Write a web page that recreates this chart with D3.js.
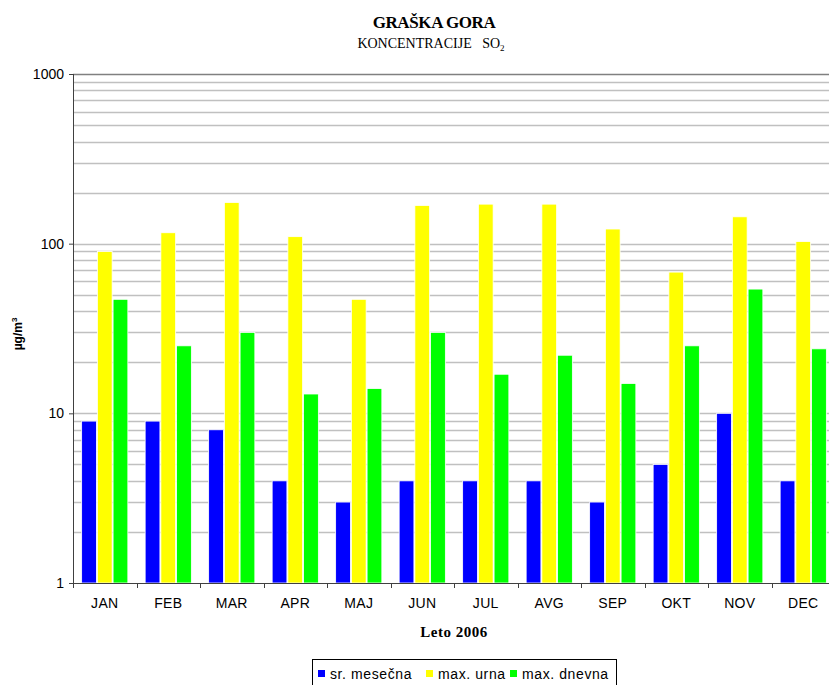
<!DOCTYPE html>
<html>
<head>
<meta charset="utf-8">
<script src="https://cdn.jsdelivr.net/npm/d3@7"></script>
<style>
  body { margin: 0; background: #fff; }
  svg { display: block; }
  .axis text { font-family: "Liberation Sans", Arial, sans-serif; font-size: 14px; fill: #000; }
  .axis path, .axis line { stroke: #404040; }
</style>
</head>
<body>
<div id="chart"></div>
<script>
// data
const months = ['JAN', 'FEB', 'MAR', 'APR', 'MAJ', 'JUN', 'JUL', 'AVG', 'SEP', 'OKT', 'NOV', 'DEC'];
const seriesNames = ['sr. mesečna', 'max. urna', 'max. dnevna'];
const srMesecna = [9, 9, 8, 4, 3, 4, 4, 4, 3, 5, 10, 4];
const maxUrna = [90, 116, 175, 110, 47, 168, 171, 171, 122, 68, 144, 103];
const maxDnevna = [47, 25, 30, 13, 14, 30, 17, 22, 15, 25, 54, 24];
const yTicks = [1, 10, 100, 1000];
const colors = ['#0000ff', '#ffff00', '#00ff00'];

const width = 829;
const height = 685;
const margin = { top: 74, right: -6, bottom: 102, left: 73 };

const svg = d3.select('#chart')
    .append('svg')
    .attr('width', width)
    .attr('height', height);

const x = d3.scaleBand()
    .domain(months)
    .range([margin.left, width - margin.right]);

const xInner = d3.scaleBand()
    .domain(d3.range(3))
    .range([0, x.bandwidth()])
    .paddingOuter(0.55)
    .paddingInner(0.06);

const y = d3.scaleLog()
    .domain([1, 1000])
    .range([height - margin.bottom, margin.top]);

// gridlines, 1..9 in each decade
const gridVals = [];
for (let d = 1; d < 1000; d *= 10) {
    for (let k = 1; k < 10; k++) {
        if (d * k > 1) gridVals.push(d * k);
    }
}
gridVals.push(1000);

svg.append('g')
    .selectAll('line')
    .data(gridVals)
    .join('line')
    .attr('x1', margin.left)
    .attr('x2', width - margin.right)
    .attr('y1', d => Math.round(y(d)) + 0.5)
    .attr('y2', d => Math.round(y(d)) + 0.5)
    .attr('stroke', d => d === 1000 ? '#808080' : '#c0c0c0')
    .attr('stroke-width', 1.3);

// bars
const rows = months.map((m, i) => ({
    month: m,
    values: [srMesecna[i], maxUrna[i], maxDnevna[i]]
}));

const group = svg.append('g')
    .selectAll('g')
    .data(rows)
    .join('g')
    .attr('transform', d => 'translate(' + x(d.month) + ',0)');

group.selectAll('rect')
    .data(d => d.values.map((v, j) => ({ v, j })))
    .join('rect')
    .attr('x', d => xInner(d.j))
    .attr('y', d => y(d.v))
    .attr('width', xInner.bandwidth())
    .attr('height', d => y(1) - y(d.v))
    .attr('fill', d => colors[d.j])
    .attr('stroke', '#fff')
    .attr('stroke-width', 0.8);

// axes
const yAxis = d3.axisLeft(y)
    .tickValues(yTicks)
    .tickFormat(d3.format('d'))
    .tickSize(4)
    .tickPadding(5);

svg.append('g')
    .attr('class', 'axis')
    .attr('transform', 'translate(' + margin.left + ',0)')
    .call(yAxis)
    .call(g => g.select('.domain').attr('d', 'M0.5,' + y(1000) + 'V' + y(1)));

const xAxis = d3.axisBottom(x).tickSize(0).tickPadding(15);

const xg = svg.append('g')
    .attr('class', 'axis')
    .attr('transform', 'translate(0,' + Math.round(y(1)) + ')')
    .call(xAxis);
xg.selectAll('.tick text').style('letter-spacing', '0.3px');
xg.select('.domain').attr('d', 'M' + margin.left + ',0.5H' + (width - margin.right));
xg.selectAll('.sep')
    .data(months)
    .join('line')
    .attr('class', 'sep')
    .attr('x1', d => Math.round(x(d)) + 0.5)
    .attr('x2', d => Math.round(x(d)) + 0.5)
    .attr('y1', 0)
    .attr('y2', 5)
    .attr('stroke', '#404040');

// titles
svg.append('text')
    .attr('x', 434)
    .attr('y', 28)
    .attr('text-anchor', 'middle')
    .style('font-family', '"Liberation Serif", "Times New Roman", serif')
    .style('font-weight', 'bold')
    .style('font-size', '17px')
    .style('letter-spacing', '-0.4px')
    .text('GRAŠKA GORA');

const sub = svg.append('text')
    .attr('x', 431)
    .attr('y', 48)
    .attr('text-anchor', 'middle')
    .style('font-family', '"Liberation Serif", "Times New Roman", serif')
    .style('font-size', '14px')
    .style('white-space', 'pre');
sub.append('tspan').text('KONCENTRACIJE   SO');
sub.append('tspan').attr('dy', 3).style('font-size', '9px').text('2');

svg.append('text')
    .attr('x', 454)
    .attr('y', 637)
    .attr('text-anchor', 'middle')
    .style('font-family', '"Liberation Serif", "Times New Roman", serif')
    .style('font-weight', 'bold')
    .style('font-size', '15px')
    .style('letter-spacing', '0.5px')
    .text('Leto 2006');

const yl = svg.append('text')
    .attr('transform', 'translate(22,334) rotate(-90)')
    .attr('text-anchor', 'middle')
    .style('font-family', '"Liberation Sans", Arial, sans-serif')
    .style('font-weight', 'bold')
    .style('font-size', '12px');
yl.append('tspan').text('µg/m');
yl.append('tspan').attr('dy', -5).style('font-size', '8px').text('3');

// legend
const legend = svg.append('g').attr('transform', 'translate(312,659)');
legend.append('rect')
    .attr('x', 0.5)
    .attr('y', 0.5)
    .attr('width', 304)
    .attr('height', 30)
    .attr('fill', '#fff')
    .attr('stroke', '#000');

const legX = [6, 114, 198];
const item = legend.selectAll('.item')
    .data(seriesNames)
    .join('g')
    .attr('class', 'item')
    .attr('transform', (d, i) => 'translate(' + legX[i] + ',0)');
item.append('rect')
    .attr('x', 0)
    .attr('y', 11)
    .attr('width', 7)
    .attr('height', 7)
    .attr('fill', (d, i) => colors[i]);
item.append('text')
    .attr('x', 12)
    .attr('y', 20)
    .style('font-family', '"Liberation Sans", Arial, sans-serif')
    .style('font-size', '14px')
    .style('letter-spacing', '0.6px')
    .text(d => d);
</script>
</body>
</html>
